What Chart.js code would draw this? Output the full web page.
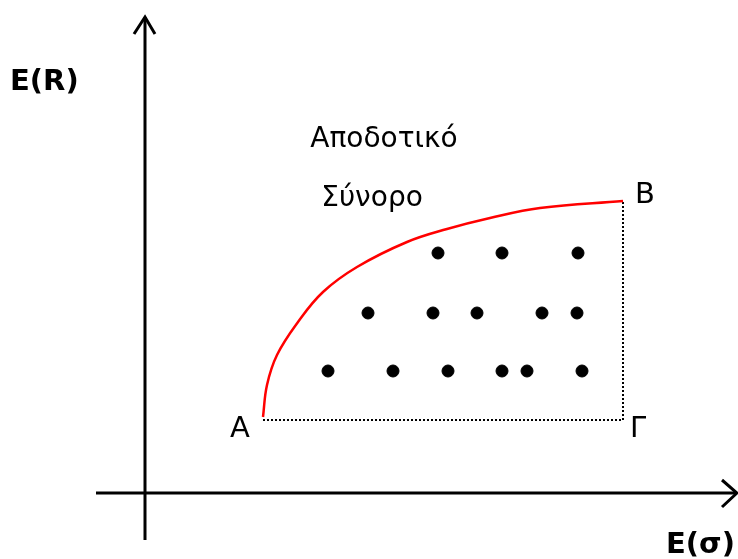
<!DOCTYPE html>
<html>
<head>
<meta charset="utf-8">
<script src="https://cdn.jsdelivr.net/npm/chart.js@4"></script>
<style>
  html, body { margin: 0; padding: 0; background: #fff; }
  #wrap { width: 738px; height: 559px; }
</style>
</head>
<body>
<div id="wrap"><canvas id="frontier-chart" width="738" height="559"></canvas></div>
<script>
// καμπύλη αποδοτικού συνόρου (κίνδυνος, απόδοση)
const frontierRisk   = [118, 122, 132, 153, 178, 212, 262, 302, 345, 395, 478];
const frontierReturn = [76, 108, 138, 171, 201, 226, 251, 264, 275, 285, 292];

// όριο A - Γ - B
const boundRisk   = [118, 478, 478];
const boundReturn = [73, 73, 292];

// χαρτοφυλάκια
const portfolioRisk   = [293, 357, 433, 223, 288, 332, 397, 432, 183, 248, 303, 357, 382, 437];
const portfolioReturn = [240, 240, 240, 180, 180, 180, 180, 180, 122, 122, 122, 122, 122, 122];

const toPoints = (xs, ys) => xs.map((x, i) => ({ x: x, y: ys[i] }));

// άξονες με βέλη, περνούν από το (0,0)
const arrowAxes = {
  id: 'arrowAxes',
  beforeDatasetsDraw(chart) {
    const { ctx, scales: { x, y } } = chart;
    const x0 = x.getPixelForValue(0), y0 = y.getPixelForValue(0);
    const xs = x.getPixelForValue(-49), xe = x.getPixelForValue(592);
    const ys = y.getPixelForValue(-47), ye = y.getPixelForValue(476);
    ctx.save();
    ctx.strokeStyle = '#000';
    ctx.lineWidth = 3;
    ctx.lineJoin = 'miter';
    ctx.beginPath();
    ctx.moveTo(xs, y0); ctx.lineTo(xe, y0);
    ctx.moveTo(x0, ys); ctx.lineTo(x0, ye);
    ctx.stroke();
    ctx.beginPath();
    ctx.moveTo(xe - 15, y0 - 13); ctx.lineTo(xe, y0); ctx.lineTo(xe - 15, y0 + 14);
    ctx.moveTo(x0 - 11, ye + 17); ctx.lineTo(x0, ye); ctx.lineTo(x0 + 10, ye + 17);
    ctx.stroke();
    ctx.restore();
  }
};

// ετικέτες
const labels = {
  id: 'labels',
  afterDatasetsDraw(chart) {
    const { ctx, scales: { x, y } } = chart;
    const px = v => x.getPixelForValue(v), py = v => y.getPixelForValue(v);
    ctx.save();
    ctx.fillStyle = '#000';
    ctx.font = '29px "DejaVu Sans"';
    ctx.textAlign = 'center';
    ctx.textBaseline = 'middle';
    ctx.fillText('A', px(boundRisk[0]) - 23, py(boundReturn[0]) + 9);
    ctx.fillText('Γ', px(boundRisk[1]) + 15, py(boundReturn[1]) + 9);
    ctx.fillText('B', px(boundRisk[2]) + 22, py(boundReturn[2]) - 6);

    ctx.textBaseline = 'alphabetic';
    ctx.font = '28px "DejaVu Sans"';
    ctx.fillText('Αποδοτικό', px(239), py(346));
    ctx.fillText('Σύνορο', px(227), py(287));

    ctx.textAlign = 'left';
    ctx.font = 'bold 29px "DejaVu Sans"';
    ctx.fillText('E(R)', 10, py(403));
    ctx.fillText('E(σ)', px(521), py(-60));
    ctx.restore();
  }
};

new Chart(document.getElementById('frontier-chart'), {
  type: 'scatter',
  data: {
    datasets: [
      {
        label: 'Αποδοτικό Σύνορο',
        data: toPoints(frontierRisk, frontierReturn),
        showLine: true,
        borderColor: '#ff0000',
        borderWidth: 2.5,
        pointRadius: 0,
        tension: 0.4
      },
      {
        label: 'Όριο',
        data: toPoints(boundRisk, boundReturn),
        showLine: true,
        borderColor: '#000',
        borderWidth: 2,
        borderDash: [2, 2],
        pointRadius: 0
      },
      {
        label: 'Χαρτοφυλάκια',
        data: toPoints(portfolioRisk, portfolioReturn),
        backgroundColor: '#000',
        borderColor: '#000',
        pointRadius: 6
      }
    ]
  },
  options: {
    responsive: false,
    animation: false,
    layout: { padding: 0, autoPadding: false },
    plugins: {
      legend: { display: false },
      tooltip: { enabled: false }
    },
    scales: {
      x: { type: 'linear', min: -145, max: 593, display: false },
      y: { type: 'linear', min: -66, max: 493, display: false }
    }
  },
  plugins: [arrowAxes, labels]
});
</script>
</body>
</html>
